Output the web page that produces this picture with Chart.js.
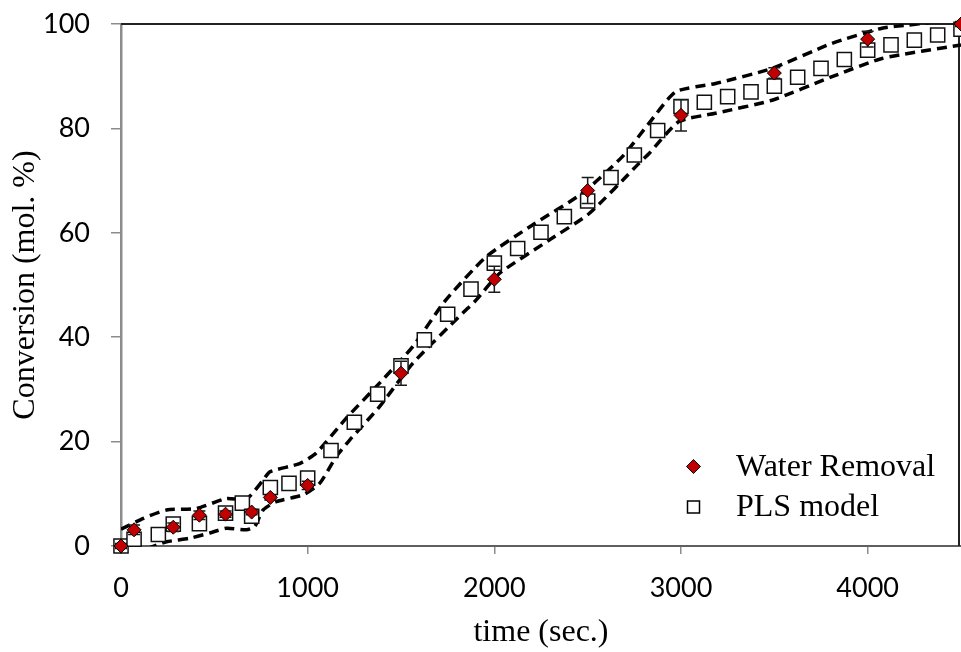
<!DOCTYPE html>
<html>
<head>
<meta charset="utf-8">
<script src="https://cdn.jsdelivr.net/npm/chart.js@4.4.0/dist/chart.umd.min.js"></script>
<style>
  html, body { margin: 0; padding: 0; background: #ffffff; }
  #wrap { width: 961px; height: 652px; }
  canvas { display: block; }
</style>
</head>
<body>
<div id="wrap"><canvas id="chart" width="961" height="652"></canvas></div>
<script>
// Axis ticks
const xTicks = [0, 1000, 2000, 3000, 4000];
const yTicks = [0, 20, 40, 60, 80, 100];

// Measured conversion with water removal (mean and +/- error)
const waterTime = [0, 70, 280, 420, 560, 700, 800, 1000, 1500, 2000, 2500, 3000, 3500, 4000, 4500];
const waterConv = [0, 3.1, 3.6, 5.9, 6.1, 6.5, 9.3, 11.6, 33.1, 51.1, 68.1, 82.5, 90.6, 97.1, 100];
const waterErr  = [0.5, 0.9, 0.8, 0.8, 0.6, 0.5, 0.5, 0.8, 2.3, 2.5, 2.5, 3.0, 1.0, 1.5, 0.5];

// PLS model prediction
const plsTime = [0, 70, 200, 280, 420, 560, 650, 700, 800, 900, 1000, 1125, 1250, 1375, 1500, 1625,
                 1750, 1875, 2000, 2125, 2250, 2375, 2500, 2625, 2750, 2875, 3000, 3125, 3250, 3375,
                 3500, 3625, 3750, 3875, 4000, 4125, 4250, 4375, 4500];
const plsConv = [0, 1.3, 2.2, 4.2, 4.3, 6.3, 8.2, 5.7, 11.2, 12.0, 13.0, 18.3, 23.7, 29.1, 34.5, 39.5,
                 44.4, 49.2, 54.2, 57.0, 60.1, 63.1, 66.1, 70.6, 74.9, 79.6, 84.2, 85.0, 86.1, 87.0,
                 88.1, 89.8, 91.5, 93.2, 95.0, 96.0, 96.9, 97.9, 99.0];

// Upper confidence limit of the model
const upperTime = [0, 120, 244, 405, 565, 672, 761, 797, 957, 1046, 1207, 1385, 1563, 1733, 1956,
                   2205, 2472, 2686, 2829, 2971, 3185, 3488, 3809, 4077, 4219, 4330, 4500];
const upperConv = [3.2, 5.3, 6.9, 7.2, 9.1, 9.0, 12.6, 14.2, 15.8, 17.8, 24.5, 31.2, 38.2, 46.8, 55.4,
                   61.5, 67.6, 74.6, 81.0, 87.0, 88.6, 91.5, 96.3, 99.2, 99.8, 100.3, 101.5];

// Lower confidence limit of the model
const lowerTime = [140, 244, 369, 476, 565, 672, 716, 761, 832, 975, 1064, 1153, 1225, 1385, 1563,
                   1830, 1902, 2027, 2294, 2508, 2775, 2829, 2989, 3185, 3488, 3809, 4077, 4500];
const lowerConv = [-0.5, 0.8, 1.5, 2.5, 3.4, 3.1, 3.7, 6.9, 8.5, 9.8, 12.0, 17.1, 20.3, 26.7, 35.0,
                   44.6, 47.1, 52.2, 58.6, 63.7, 73.3, 75.2, 81.3, 82.9, 85.4, 89.9, 93.4, 96.0];

const pairs = (xs, ys) => xs.map((x, i) => ({ x: x, y: ys[i] }));

const TICK_FONT = { family: 'Lato, "Open Sans", sans-serif', size: 27 };
const TITLE_FONT = { family: '"Liberation Serif", "Times New Roman", serif', size: 32 };
const RED = '#c00000';

// Vertical error bars for the measured series, drawn just beneath its markers
const errorBars = {
  id: 'errorBars',
  beforeDatasetDraw(chart, args) {
    if (args.index !== 0) return;
    const { ctx, scales: { x, y } } = chart;
    ctx.save();
    ctx.strokeStyle = '#1a1a1a';
    ctx.lineWidth = 1.5;
    const cap = 6;
    waterTime.forEach((t, i) => {
      const px = x.getPixelForValue(t);
      const hi = y.getPixelForValue(waterConv[i] + waterErr[i]);
      const lo = y.getPixelForValue(waterConv[i] - waterErr[i]);
      ctx.beginPath();
      ctx.moveTo(px, hi); ctx.lineTo(px, lo);
      ctx.moveTo(px - cap, hi); ctx.lineTo(px + cap, hi);
      ctx.moveTo(px - cap, lo); ctx.lineTo(px + cap, lo);
      ctx.stroke();
    });
    ctx.restore();
  }
};

// Thin frame on the top and right of the plot area
const frame = {
  id: 'frame',
  beforeDatasetsDraw(chart) {
    const { ctx, chartArea: a } = chart;
    ctx.save();
    ctx.strokeStyle = '#222222';
    ctx.lineWidth = 2;
    ctx.beginPath();
    ctx.moveTo(a.left, a.top);
    ctx.lineTo(a.right - 2, a.top);
    ctx.lineTo(a.right - 2, a.bottom);
    ctx.stroke();
    ctx.restore();
  }
};

// Legend placed inside the lower right corner of the plot
const innerLegend = {
  id: 'innerLegend',
  afterDatasetsDraw(chart) {
    const { ctx, chartArea: a } = chart;
    const mx = a.right - 267.5;
    const tx = a.right - 225;
    const rows = [
      { label: chart.data.datasets[0].label, y: a.bottom - 79.5, kind: 'diamond' },
      { label: chart.data.datasets[1].label, y: a.bottom - 39, kind: 'square' }
    ];
    ctx.save();
    rows.forEach(r => {
      ctx.beginPath();
      if (r.kind === 'diamond') {
        const s = 7;
        ctx.moveTo(mx, r.y - s); ctx.lineTo(mx + s, r.y); ctx.lineTo(mx, r.y + s); ctx.lineTo(mx - s, r.y);
        ctx.closePath();
        ctx.fillStyle = RED; ctx.fill();
        ctx.strokeStyle = '#000'; ctx.lineWidth = 1; ctx.stroke();
      } else {
        const h = 6;
        ctx.rect(mx - h, r.y - h, 2 * h, 2 * h);
        ctx.fillStyle = '#fff'; ctx.fill();
        ctx.strokeStyle = '#000'; ctx.lineWidth = 1.5; ctx.stroke();
      }
      ctx.fillStyle = '#000';
      ctx.font = TITLE_FONT.size + 'px ' + TITLE_FONT.family;
      ctx.textAlign = 'left';
      ctx.textBaseline = 'middle';
      ctx.fillText(r.label, tx, r.y + 1);
    });
    ctx.restore();
  }
};

const bandStyle = {
  showLine: true,
  borderColor: '#000000',
  borderWidth: 3.5,
  borderDash: [10, 6],
  pointRadius: 0,
  pointHoverRadius: 0,
  tension: 0.2,
  fill: false,
  clip: 0
};

new Chart(document.getElementById('chart'), {
  type: 'scatter',
  data: {
    datasets: [
      {
        label: 'Water Removal',
        data: pairs(waterTime, waterConv),
        pointStyle: 'rectRot',
        pointRadius: 7,
        pointBackgroundColor: RED,
        pointBorderColor: '#000000',
        pointBorderWidth: 1,
        clip: false
      },
      {
        label: 'PLS model',
        data: pairs(plsTime, plsConv),
        pointStyle: 'rect',
        pointRadius: 10,
        pointBackgroundColor: '#ffffff',
        pointBorderColor: '#111111',
        pointBorderWidth: 1.5,
        clip: false
      },
      Object.assign({ label: 'Upper limit', data: pairs(upperTime, upperConv) }, bandStyle),
      Object.assign({ label: 'Lower limit', data: pairs(lowerTime, lowerConv) }, bandStyle)
    ]
  },
  options: {
    responsive: false,
    devicePixelRatio: 1,
    animation: false,
    layout: { autoPadding: false, padding: { top: 24, right: 0, left: 0, bottom: 0 } },
    plugins: {
      legend: { display: false },
      tooltip: { enabled: false }
    },
    scales: {
      x: {
        type: 'linear',
        min: 0,
        max: 4500,
        afterBuildTicks(scale) { scale.ticks = xTicks.map(v => ({ value: v })); },
        afterFit(scale) {
          scale.height = 106;
          scale.paddingLeft = 0; scale.paddingRight = 0;
        },
        grid: { drawOnChartArea: false, drawTicks: true, tickLength: 8, color: '#8c8c8c', lineWidth: 1.5 },
        border: { display: true, color: '#5f5f5f', width: 2 },
        ticks: { font: TICK_FONT, color: '#000', padding: 18, maxRotation: 0, callback: v => String(v) },
        title: { display: true, text: 'time (sec.)', font: TITLE_FONT, color: '#000', padding: { top: 0, bottom: 0 } }
      },
      y: {
        type: 'linear',
        min: 0,
        max: 100,
        afterBuildTicks(scale) { scale.ticks = yTicks.map(v => ({ value: v })); },
        afterFit(scale) {
          scale.width = 121;
          scale.paddingTop = 0; scale.paddingBottom = 0;
        },
        grid: { drawOnChartArea: false, drawTicks: true, tickLength: 10, color: '#8c8c8c', lineWidth: 1.5 },
        border: { display: true, color: '#8c8c8c', width: 2.5 },
        ticks: { font: TICK_FONT, color: '#000', padding: 21, callback: v => String(v) },
        title: { display: true, text: 'Conversion (mol. %)', font: TITLE_FONT, color: '#000', padding: { top: 6, bottom: 0 } }
      }
    }
  },
  plugins: [errorBars, frame, innerLegend]
});
</script>
</body>
</html>
